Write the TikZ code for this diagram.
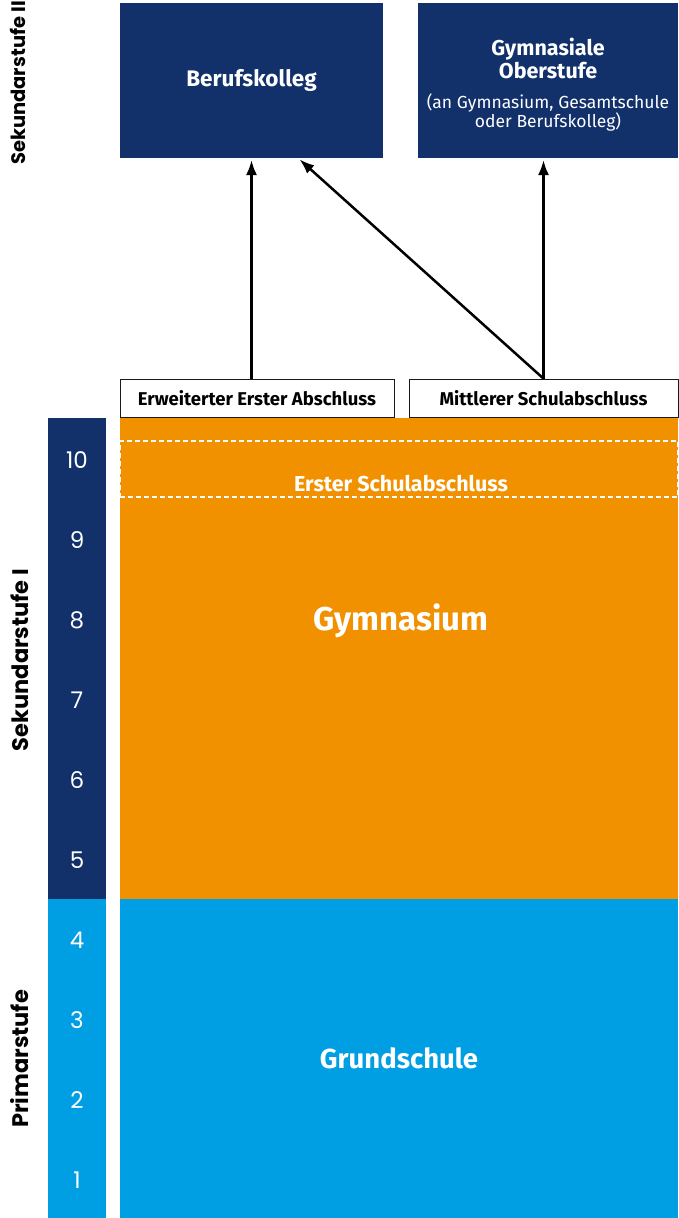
\documentclass[tikz,border=0pt]{standalone}
\usepackage{fontspec}
\setmainfont{Fira Sans}
\newfontfamily\stagefont{Poppins}
\usetikzlibrary{arrows.meta,positioning}
\definecolor{nrwNavy}{HTML}{12316B}
\definecolor{nrwOrange}{HTML}{F29100}
\definecolor{nrwCyan}{HTML}{009FE3}
\definecolor{nrwInk}{HTML}{1A1A1A}
\newcommand{\bigline}{\fontsize{21.5}{25}\selectfont\bfseries}
\newcommand{\smallline}{\fontsize{17.5}{19}\selectfont\mdseries}
\tikzset{
  nrwSek/.style={fill=nrwNavy,text=white},
  nrwGym/.style={fill=nrwOrange,text=white},
  nrwPrim/.style={fill=nrwCyan,text=white}
}

\begin{document}
\begin{tikzpicture}[x=1pt,y=-1pt,
  block/.style={inner sep=0pt,outer sep=0pt,align=center},
  exam/.style={draw=nrwInk,fill=white,line width=0.8pt,inner sep=0pt,
    minimum height=38pt,font=\fontsize{18.5}{20}\selectfont\bfseries},
  arrow/.style={-{Latex[length=15pt,width=11pt]},line width=2.5pt,
    draw=black,shorten >=2pt},
  side/.style={rotate=90,font=\stagefont\fontsize{22.5}{24}\selectfont\bfseries},
  grade/.style={text=white,font=\stagefont\fontsize{23}{25}\selectfont}]
\useasboundingbox (0,0) rectangle (678,1218);
% Sekundarstufe II
\node[block,nrwSek,minimum width=263pt,minimum height=155pt,
  font=\fontsize{22.5}{25}\selectfont\bfseries] (beruf) at (251.5,80.5) {Berufskolleg};
\node[block,nrwSek,minimum width=260pt,minimum height=155pt] (gymo) at (548,80.5) {};
\node[block,text=white] (gymotext) at (548,85)
  {\bigline Gymnasiale\\\bigline Oberstufe\\[14pt]
   \smallline (an Gymnasium, Gesamtschule\\\smallline oder Berufskolleg)};
% Abschluesse
\node[exam,minimum width=274pt] (erw) at (257,398) {Erweiterter Erster Abschluss};
\node[exam,minimum width=269pt] (mittel) at (543.5,398) {Mittlerer Schulabschluss};
% Sekundarstufe I und Primarstufe
\node[block,nrwGym,minimum width=558pt,minimum height=481pt] (gym) at (399,658.5) {};
\node[text=white,font=\fontsize{33}{35}\selectfont\bfseries] (gymtext) at (401,621) {Gymnasium};
\node[block,draw=white,dash pattern=on 5pt off 3pt,line width=1.3pt,
  minimum width=558pt,minimum height=56pt] (erster) at (399,469) {};
\node[text=white,font=\fontsize{21.5}{23}\selectfont\bfseries] (erstertext) at (401,484) {Erster Schulabschluss};
\node[block,nrwPrim,minimum width=558pt,minimum height=319pt,
  font=\fontsize{27.5}{30}\selectfont\bfseries] (grund) at (399,1058.5) {Grundschule};
\node[block,nrwSek,minimum width=58pt,minimum height=481pt] (seki) at (77,658.5) {};
\node[block,nrwPrim,minimum width=58pt,minimum height=319pt] (prim) at (77,1058.5) {};
\foreach \g in {1,...,10}
  \node[grade] (g\g) at (77,1260-80*\g) {\g};
% Stufen
\node[side,font=\stagefont\fontsize{19.5}{22}\selectfont\bfseries] (stII) at (18,83) {Sekundarstufe II};
\node[side] (stI) at (20,660) {Sekundarstufe I};
\node[side] (stP) at (20,1059) {Primarstufe};
% Uebergaenge
\draw[arrow] (erw.north -| beruf.south) -- (beruf.south);
\draw[arrow] (mittel.north) -- ([xshift=-85pt]beruf.south east);
\draw[arrow] (mittel.north) -- (mittel.north |- gymo.south);
\end{tikzpicture}
\end{document}
